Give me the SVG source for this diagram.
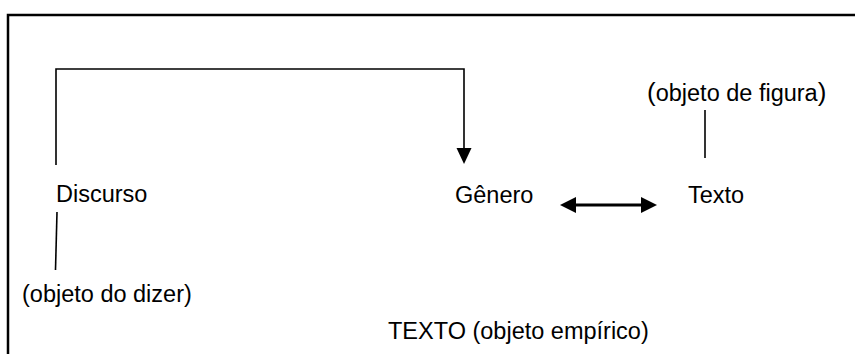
<svg xmlns="http://www.w3.org/2000/svg" width="855" height="354" viewBox="0 0 855 354">
<style>
text { font-family: "Liberation Sans", Arial, sans-serif; font-size: 23.5px; fill: #000; }
.ln { stroke: #000; fill: none; stroke-width: 1.6; }
.frame { stroke: #000; fill: none; stroke-width: 2.5; }
.par { font-size: 26px; }
</style>
<defs>
<marker id="ah" viewBox="0 0 10 10" refX="10" refY="5" markerWidth="10" markerHeight="10" markerUnits="userSpaceOnUse" orient="auto">
<path d="M0,0 L10,5 L0,10 Z" fill="#000"/>
</marker>
</defs>
<path class="frame" d="M8,354 V15 H855"/>
<g id="discurso"><text x="56" y="202">Discurso</text></g>
<g id="genero"><text x="455" y="203">Gênero</text></g>
<g id="texto"><text x="688" y="203">Texto</text></g>
<g id="objeto-dizer"><text x="22" y="302">(objeto do dizer)</text></g>
<g id="objeto-figura"><text x="647" y="101"><tspan class="par">(</tspan>objeto de figura<tspan class="par">)</tspan></text></g>
<g id="texto-empirico"><text x="388" y="339">TEXTO (objeto empírico)</text></g>
<g id="connectors">
<path class="ln" d="M56,165 V69 H464 V150"/>
<polygon points="456.5,148 471.5,148 464,164" fill="#000"/>
<line class="ln" x1="57" y1="212" x2="55.5" y2="270"/>
<line class="ln" x1="705" y1="110" x2="705" y2="158"/>
<line x1="574" y1="205" x2="643" y2="205" stroke="#000" stroke-width="3"/>
<polygon points="560,205 576,197 576,213" fill="#000"/>
<polygon points="657,205 641,197 641,213" fill="#000"/>
</g>
</svg>
